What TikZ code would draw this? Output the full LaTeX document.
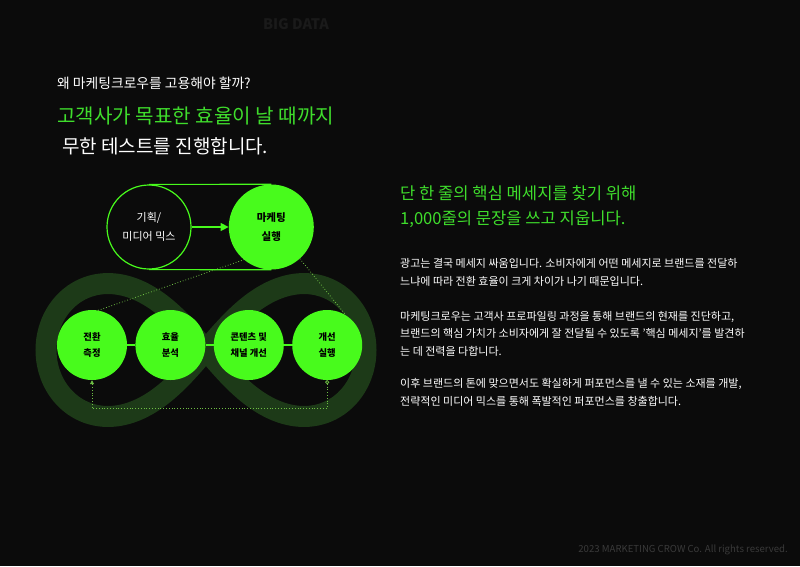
\documentclass[tikz,border=0pt]{standalone}
\usepackage{fontspec}
\setmainfont{Noto Sans CJK KR}
\usepackage{tikz}
\usetikzlibrary{arrows.meta, positioning}
\usepackage{xcolor}
\definecolor{bgblack}{HTML}{0B0B0B}
\definecolor{neon}{HTML}{48FB1C}
\definecolor{headgreen}{HTML}{3FDD2C}
\definecolor{bandgreen}{HTML}{1D3A18}
\definecolor{dotgreen}{HTML}{6FBF44}
\definecolor{dimgray}{HTML}{1A1A1A}
\definecolor{footgray}{HTML}{3A3A3A}

\begin{document}
\begin{tikzpicture}[
    x=1pt, y=-1pt,
    stage/.style={circle, fill=neon, minimum size=70pt, inner sep=0pt,
                  align=center, text=black,
                  font=\fontsize{9.3}{16}\selectfont\bfseries},
    link/.style={draw=neon, line width=1.3pt},
    guide/.style={draw=dotgreen, dotted, line width=0.8pt},
    body/.style={anchor=base west, align=left, text=white, inner sep=0pt,
                 font=\fontsize{11}{17.5}\selectfont},
  ]
    \fill[bgblack] (0,0) rectangle (800,566);

    % header texts
    \node[text=dimgray, font=\fontsize{14.5}{16}\selectfont\bfseries]
      (tag) at (296,24) {BIG DATA};
    \node[anchor=base west, inner sep=0pt, text=white,
          font=\fontsize{13.8}{16}\selectfont] (ask) at (57,88)
      {왜 마케팅크로우를 고용해야 할까?};
    \node[anchor=base west, inner sep=0pt, text=headgreen,
          font=\fontsize{20.1}{22}\selectfont] (head1) at (57,123)
      {고객사가 목표한 효율이 날 때까지};
    \node[anchor=base west, inner sep=0pt, text=white,
          font=\fontsize{19}{22}\selectfont] (head2) at (62,153)
      {무한 테스트를 진행합니다.};

    % infinity band
    \draw[bandgreen, line width=21pt]
      plot[domain=0:357, samples=120, smooth cycle, variable=\t]
      ({206+160*cos(\t)/(1+sin(\t)*sin(\t))},
       {350+188*sin(\t)*cos(\t)/(1+sin(\t)*sin(\t))});

    % top pair
    \node[circle, draw=neon, line width=1.2pt, fill=bgblack, minimum size=84pt,
          inner sep=0pt, align=center, text=white,
          font=\fontsize{11}{19}\selectfont] (plan) at (149,227)
      {기획/\\미디어 믹스};
    \node[stage, minimum size=85pt, font=\fontsize{10.5}{19}\selectfont\bfseries,
          right=37pt of plan] (exec) {마케팅\\실행};
    \draw[link, line width=1.2pt] (plan.north) -- (exec.north);
    \draw[link, line width=1.2pt] (plan.south) -- (exec.south);
    \draw[link, line width=1.5pt, -{Triangle[length=8pt, width=8pt]}]
      (plan.east) -- (exec.west);

    % cycle row
    \node[stage] (c1) at (92,345) {전환\\측정};
    \node[stage, right=8pt of c1] (c2) {효율\\분석};
    \node[stage, right=8pt of c2] (c3) {콘텐츠 및\\채널 개선};
    \node[stage, right=8pt of c3] (c4) {개선\\실행};
    \draw[link] (c1) -- (c2);
    \draw[link] (c2) -- (c3);
    \draw[link] (c3) -- (c4);

    \draw[guide] (c1.80) -- (exec.230);
    \draw[guide] (exec.312) -- (c4.58);
    \draw[guide, {Circle[open, length=4pt]}-{Triangle[length=4pt, width=4pt]}]
      (c4.south) -- ++(0,28) -| (c1.south);

    % right column (base = last line)
    \node[anchor=base west, align=left, inner sep=0pt, text=headgreen,
          font=\fontsize{16.6}{25}\selectfont] (lead) at (400,224)
      {단 한 줄의 핵심 메세지를 찾기 위해\\1,000줄의 문장을 쓰고 지웁니다.};
    \node[body] (p1) at (400,285)
      {광고는 결국 메세지 싸움입니다. 소비자에게 어떤 메세지로 브랜드를 전달하\\
       느냐에 따라 전환 효율이 크게 차이가 나기 때문입니다.};
    \node[body] (p2) at (400,355)
      {마케팅크로우는 고객사 프로파일링 과정을 통해 브랜드의 현재를 진단하고,\\
       브랜드의 핵심 가치가 소비자에게 잘 전달될 수 있도록 '핵심 메세지'를 발견하\\
       는 데 전력을 다합니다.};
    \node[body] (p3) at (400,405)
      {이후 브랜드의 톤에 맞으면서도 확실하게 퍼포먼스를 낼 수 있는 소재를 개발,\\
       전략적인 미디어 믹스를 통해 폭발적인 퍼포먼스를 창출합니다.};

    \node[anchor=base east, inner sep=0pt, text=footgray,
          font=\fontsize{9.6}{11}\selectfont] (foot) at (788,552)
      {2023 MARKETING CROW Co. All rights reserved.};
  \end{tikzpicture}
\end{document}
